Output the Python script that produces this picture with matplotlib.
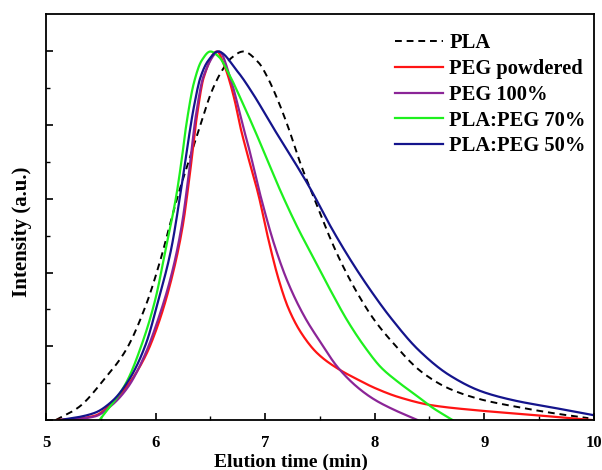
import numpy as np
import matplotlib
matplotlib.use("Agg")
import matplotlib.pyplot as plt

# values (elution time in min, normalised intensity)
pla_t = [5.09, 5.30, 5.53, 5.73, 5.91, 6.05, 6.14, 6.21, 6.30, 6.37, 6.44, 6.51, 6.60, 6.69, 6.80,
         6.94, 7.03, 7.12, 7.21, 7.33, 7.45, 7.57, 7.69, 7.85, 8.00, 8.15, 8.43, 8.68, 8.98, 9.29,
         9.62, 9.95]
pla_i = [0.0, 0.035, 0.11, 0.19, 0.31, 0.44, 0.54, 0.615, 0.70, 0.765, 0.83, 0.89, 0.945, 0.982, 1.0,
         0.97, 0.925, 0.865, 0.795, 0.69, 0.60, 0.51, 0.43, 0.34, 0.27, 0.215, 0.13, 0.085, 0.055,
         0.036, 0.019, 0.005]

peg_pow_t = [5.10, 5.30, 5.45, 5.60, 5.76, 5.91, 6.03, 6.16, 6.25, 6.31, 6.38, 6.44, 6.56, 6.63,
             6.72, 6.77, 6.83, 6.94, 7.03, 7.12, 7.21, 7.33, 7.48, 7.66, 7.85, 8.00, 8.22, 8.52,
             8.98, 9.43, 9.98]
peg_pow_i = [0.0, 0.004, 0.012, 0.045, 0.10, 0.175, 0.265, 0.40, 0.53, 0.66, 0.83, 0.93, 1.0, 0.96,
             0.87, 0.80, 0.73, 0.61, 0.49, 0.385, 0.305, 0.236, 0.18, 0.14, 0.109, 0.087, 0.062, 0.04,
             0.025, 0.014, 0.0]

peg100_t = [5.15, 5.30, 5.45, 5.60, 5.75, 5.90, 6.02, 6.15, 6.24, 6.30, 6.37, 6.44, 6.58, 6.69,
            6.80, 6.85, 6.96, 7.09, 7.21, 7.36, 7.51, 7.66, 7.85, 8.00, 8.16, 8.39]
peg100_i = [0.0, 0.003, 0.01, 0.04, 0.09, 0.175, 0.27, 0.40, 0.53, 0.66, 0.83, 0.935, 1.0, 0.92,
            0.795, 0.74, 0.606, 0.47, 0.372, 0.28, 0.209, 0.144, 0.087, 0.055, 0.03, 0.0]

pla_peg70_t = [5.49, 5.73, 5.88, 6.00, 6.09, 6.19, 6.24, 6.28, 6.35, 6.42, 6.50, 6.58, 6.66, 6.78,
               6.90, 7.00, 7.15, 7.30, 7.45, 7.60, 7.75, 7.91, 8.06, 8.21, 8.40, 8.52, 8.71]
pla_peg70_i = [0.0, 0.10, 0.21, 0.33, 0.46, 0.61, 0.71, 0.80, 0.915, 0.975, 1.0, 0.985, 0.945, 0.87,
               0.79, 0.72, 0.615, 0.52, 0.435, 0.35, 0.27, 0.198, 0.142, 0.104, 0.062, 0.035, 0.0]

pla_peg50_t = [5.13, 5.30, 5.45, 5.60, 5.76, 5.91, 6.03, 6.14, 6.23, 6.27, 6.30, 6.35, 6.41, 6.48,
               6.57, 6.75, 6.90, 7.06, 7.24, 7.42, 7.60, 7.78, 7.96, 8.15, 8.40, 8.68, 8.98, 9.29,
               9.62, 10.0]
pla_peg50_i = [0.0, 0.008, 0.02, 0.05, 0.11, 0.205, 0.33, 0.46, 0.62, 0.70, 0.76, 0.85, 0.93, 0.975,
               1.0, 0.945, 0.88, 0.80, 0.714, 0.624, 0.524, 0.434, 0.353, 0.276, 0.19, 0.122, 0.077,
               0.052, 0.034, 0.013]


def pchip(x, y, n=600):
    # monotone cubic (Fritsch-Carlson) so the curves come out smooth
    x = np.asarray(x, float)
    y = np.asarray(y, float)
    h = np.diff(x)
    d = np.diff(y) / h
    m = np.zeros_like(y)
    for k in range(1, len(x) - 1):
        if d[k - 1] * d[k] > 0:
            w1 = 2 * h[k] + h[k - 1]
            w2 = h[k] + 2 * h[k - 1]
            m[k] = (w1 + w2) / (w1 / d[k - 1] + w2 / d[k])
    m[0] = d[0]
    m[-1] = d[-1]
    xs = np.linspace(x[0], x[-1], n)
    i = np.clip(np.searchsorted(x, xs) - 1, 0, len(h) - 1)
    t = (xs - x[i]) / h[i]
    h00 = 2 * t**3 - 3 * t**2 + 1
    h10 = t**3 - 2 * t**2 + t
    h01 = -2 * t**3 + 3 * t**2
    h11 = t**3 - t**2
    ys = h00 * y[i] + h10 * h[i] * m[i] + h01 * y[i + 1] + h11 * h[i] * m[i + 1]
    return xs, ys


plt.rcParams['font.family'] = ['Liberation Serif', 'DejaVu Serif']
plt.rcParams['font.weight'] = 'bold'

fig = plt.figure(figsize=(6.02, 4.70), dpi=100)
ax = fig.add_axes([0.0764, 0.1064, 0.910, 0.864])

ax.plot(*pchip(pla_t, pla_i), color='black', linestyle=(0, (3.5, 2.5)), lw=1.4, label='PLA')
ax.plot(*pchip(peg_pow_t, peg_pow_i), color='#ff1414', lw=1.6, label='PEG powdered')
ax.plot(*pchip(peg100_t, peg100_i), color='#8b2597', lw=1.6, label='PEG 100%')
ax.plot(*pchip(pla_peg70_t, pla_peg70_i), color='#1ef01e', lw=1.6, label='PLA:PEG 70%')
ax.plot(*pchip(pla_peg50_t, pla_peg50_i), color='#14148c', lw=1.6, label='PLA:PEG 50%')

ax.set_xlim(5, 10)
ax.set_ylim(0, 1.102)
ax.set_xticks(np.arange(5, 10.1, 1))
ax.set_xticks(np.arange(5, 10.1, 0.5), minor=True)
ax.set_yticks(np.arange(0, 1.01, 0.2))
ax.set_yticks(np.arange(0, 1.01, 0.1), minor=True)
ax.set_yticklabels([])
ax.tick_params(direction='in', which='major', length=5, width=1.2, labelsize=12, pad=11)
ax.tick_params(direction='in', which='minor', length=3, width=1.0)
for lab in ax.get_xticklabels():
    lab.set_fontweight('bold')
for s in ax.spines.values():
    s.set_linewidth(1.3)

ax.set_xlabel('Elution time (min)', fontsize=14, fontweight='bold')
ax.xaxis.set_label_coords(0.447, -0.082)
ax.set_ylabel('Intensity (a.u.)', fontsize=15, fontweight='bold')
ax.yaxis.set_label_coords(-0.025, 0.463)

leg = ax.legend(loc='upper left', frameon=False, prop={'weight': 'bold', 'size': 14.8},
                handlelength=2.35, handletextpad=0.3, labelspacing=0.28,
                borderpad=0, borderaxespad=0, bbox_to_anchor=(0.637, 0.952))

fig.savefig('out.png', dpi=100)
